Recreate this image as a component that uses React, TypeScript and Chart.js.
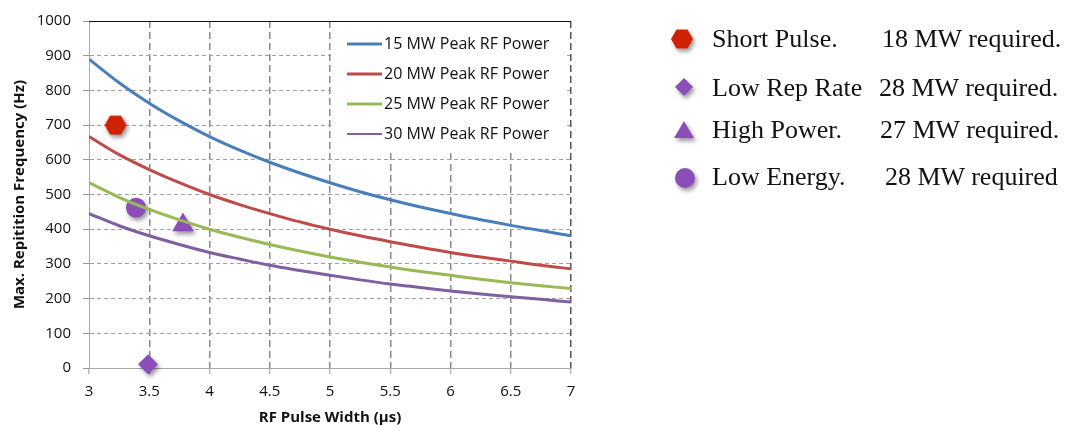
import React, { useEffect, useRef } from 'react';
import { Chart, registerables } from 'chart.js';

Chart.register(...registerables);

// ---- data ----
const pulseWidths = [3, 3.25, 3.5, 3.75, 4, 4.25, 4.5, 4.75, 5, 5.25, 5.5, 5.75, 6, 6.25, 6.5, 6.75, 7];
const rep15MW = [890, 822, 763, 712, 667, 628, 593, 562, 534, 508, 485, 464, 445, 427, 411, 396, 381];
const rep20MW = [667, 615, 572, 534, 500, 471, 445, 421, 400, 381, 364, 348, 333, 320, 308, 296, 286];
const rep25MW = [534, 492, 457, 427, 400, 377, 356, 337, 320, 305, 291, 278, 267, 256, 246, 237, 229];
const rep30MW = [445, 410, 381, 356, 333, 314, 296, 281, 267, 254, 242, 232, 222, 213, 205, 198, 190];
const seriesLabels = ['15 MW Peak RF Power', '20 MW Peak RF Power', '25 MW Peak RF Power', '30 MW Peak RF Power'];
const seriesColors = ['#4A7EBB', '#BE4B48', '#98B954', '#7D60A0'];

const markerLabels = ['Short Pulse.', 'Low Rep Rate', 'High Power.', 'Low Energy.'];
const markerNotes = ['18 MW required.', '28 MW required.', '27 MW required.', '28 MW required'];
const markerX = [3.22, 3.49, 3.78, 3.39];
const markerY = [700, 11, 412, 462];
const markerColors = ['#CF2000', '#8B4DB8', '#8B4DB8', '#8B4DB8'];

const xTitle = 'RF Pulse Width (µs)';
const yTitle = 'Max. Repitition Frequency (Hz)';

function makeHexagon(color: string, r: number) {
  const c = document.createElement('canvas');
  const s = Math.ceil(r * 2 + 2);
  c.width = s;
  c.height = s;
  const g = c.getContext('2d')!;
  g.fillStyle = color;
  g.beginPath();
  for (let i = 0; i < 6; i++) {
    const a = (Math.PI / 3) * i;
    const px = s / 2 + r * Math.cos(a);
    const py = s / 2 + r * Math.sin(a);
    if (i === 0) g.moveTo(px, py);
    else g.lineTo(px, py);
  }
  g.closePath();
  g.fill();
  return c;
}

const insideLegend = {
  id: 'insideLegend',
  beforeDatasetsDraw(chart: any) {
    const { ctx, chartArea } = chart;
    ctx.save();
    ctx.fillStyle = '#ffffff';
    ctx.fillRect(331, chartArea.top + 1, 236, 129);
    ctx.font = '16px "Open Sans"';
    ctx.textBaseline = 'middle';
    ctx.textAlign = 'left';
    seriesLabels.forEach((lab, i) => {
      const y = chartArea.top + 23 + i * 30;
      ctx.strokeStyle = seriesColors[i];
      ctx.lineWidth = i === 3 ? 2 : 3;
      ctx.beginPath();
      ctx.moveTo(347, y);
      ctx.lineTo(382, y);
      ctx.stroke();
      ctx.fillStyle = '#111';
      ctx.fillText(lab, 384, y);
    });
    // top frame line
    ctx.strokeStyle = '#111';
    ctx.lineWidth = 1.2;
    ctx.beginPath();
    ctx.moveTo(chartArea.left, chartArea.top + 0.5);
    ctx.lineTo(chartArea.right, chartArea.top + 0.5);
    ctx.stroke();
    ctx.restore();
  },
};

const markerShadow = {
  id: 'markerShadow',
  beforeDatasetDraw(chart: any, args: any) {
    const ds = chart.data.datasets[args.index];
    if (ds.isMarker) {
      const ctx = chart.ctx;
      ctx.save();
      ctx.shadowColor = 'rgba(0,0,0,0.4)';
      ctx.shadowOffsetX = 2;
      ctx.shadowOffsetY = 3;
      ctx.shadowBlur = 4;
    }
  },
  afterDatasetDraw(chart: any, args: any) {
    const ds = chart.data.datasets[args.index];
    if (ds.isMarker) chart.ctx.restore();
  },
};

export default function App() {
  const ref = useRef<HTMLCanvasElement>(null);

  useEffect(() => {
    if (!ref.current) return;
    const series = [rep15MW, rep20MW, rep25MW, rep30MW];
    const lineSets = series.map((vals, i) => ({
      type: 'line',
      label: seriesLabels[i],
      data: pulseWidths.map((x, j) => ({ x, y: vals[j] })),
      borderColor: seriesColors[i],
      backgroundColor: seriesColors[i],
      borderWidth: 3,
      pointRadius: 0,
      cubicInterpolationMode: 'monotone',
      fill: false,
    }));
    const styles: any[] = [makeHexagon(markerColors[0], 11), 'rectRot', 'triangle', 'circle'];
    const radii = [11, 10, 12.5, 10];
    const markerSets = markerLabels.map((lab, i) => ({
      type: 'scatter',
      label: lab,
      isMarker: true,
      data: [{ x: markerX[i], y: markerY[i] }],
      pointStyle: styles[i],
      pointRadius: radii[i],
      backgroundColor: markerColors[i],
      borderColor: markerColors[i],
      borderWidth: 0,
      clip: false,
    }));

    const chart = new Chart(ref.current, {
      type: 'line',
      data: { datasets: [...lineSets, ...markerSets] as any },
      plugins: [insideLegend, markerShadow],
      options: {
        animation: false,
        responsive: false,
        devicePixelRatio: 1,
        layout: { padding: { top: 15, right: 29, left: 0, bottom: 0 } },
        plugins: { legend: { display: false }, tooltip: { enabled: false } },
        scales: {
          x: {
            type: 'linear',
            min: 3,
            max: 7,
            ticks: {
              stepSize: 0.5,
              padding: 9,
              color: '#111',
              font: { family: 'Open Sans', size: 15 },
              callback: (v: any) => String(v),
            },
            grid: {
              color: (c: any) => (c.tick && c.tick.value === 3 ? 'rgba(0,0,0,0)' : c.tick && c.tick.value === 7 ? '#555' : '#8a8a8a'),
              lineWidth: 1.5,
              tickLength: 6,
              tickColor: '#9a9a9a',
              tickWidth: 1,
              tickBorderDash: [],
            },
            border: { display: true, color: '#a8a8a8', width: 1, dash: [7, 4] },
            title: {
              display: true,
              text: xTitle,
              color: '#111',
              font: { family: 'Open Sans', size: 15, weight: 'bold' },
              padding: { top: 0, bottom: 5 },
            },
            afterFit: (s: any) => {
              s.height = 64;
            },
          },
          y: {
            type: 'linear',
            min: 0,
            max: 1000,
            ticks: {
              stepSize: 100,
              padding: 12,
              color: '#111',
              font: { family: 'Open Sans', size: 15 },
              callback: (v: any) => String(v),
            },
            grid: {
              color: (c: any) => (c.tick && (c.tick.value === 0 || c.tick.value === 1000) ? 'rgba(0,0,0,0)' : '#a0a0a0'),
              lineWidth: 1,
              tickLength: 6,
              tickColor: '#9a9a9a',
              tickWidth: 1,
              tickBorderDash: [],
            },
            border: { display: true, color: '#a8a8a8', width: 1, dash: [4, 3] },
            title: {
              display: true,
              text: yTitle,
              color: '#111',
              font: { family: 'Open Sans', size: 15, weight: 'bold' },
              padding: { top: 11, bottom: 0 },
            },
            afterFit: (s: any) => {
              s.width = 89;
            },
          },
        },
      } as any,
    });
    return () => chart.destroy();
  }, []);

  const hex = (cx: number, cy: number, r: number) =>
    Array.from({ length: 6 }, (_, i) => {
      const a = (Math.PI / 3) * i;
      return `${cx + r * Math.cos(a)},${cy + r * Math.sin(a)}`;
    }).join(' ');

  const rowBase = [47, 96, 138, 185];
  const rowMark = [39, 87, 130, 178];
  const noteX = [882, 879, 880, 885];

  return (
    <div style={{ position: 'absolute', left: 0, top: 0, width: 1078, height: 432, background: '#fff' }}>
      <canvas ref={ref} width={600} height={432} style={{ position: 'absolute', left: 0, top: 0 }} />
      <svg width={1078} height={432} style={{ position: 'absolute', left: 0, top: 0, pointerEvents: 'none' }}>
        <defs>
          <filter id="sh" x="-50%" y="-50%" width="200%" height="200%">
            <feDropShadow dx="2" dy="3" stdDeviation="2" floodColor="#000" floodOpacity="0.4" />
          </filter>
        </defs>
        <polygon points={hex(682, rowMark[0], 11)} fill={markerColors[0]} filter="url(#sh)" />
        <polygon points={`684,${rowMark[1] - 9} 693,${rowMark[1]} 684,${rowMark[1] + 9} 675,${rowMark[1]}`} fill={markerColors[1]} filter="url(#sh)" />
        <polygon points={`684,${rowMark[2] - 9} 694,${rowMark[2] + 8} 674,${rowMark[2] + 8}`} fill={markerColors[2]} filter="url(#sh)" />
        <circle cx={685} cy={rowMark[3]} r={10} fill={markerColors[3]} filter="url(#sh)" />
        {markerLabels.map((lab, i) => (
          <text key={'l' + i} x={712} y={rowBase[i]} fontFamily="'Liberation Serif', serif" fontSize={26} fill="#111">
            {lab}
          </text>
        ))}
        {markerNotes.map((n, i) => (
          <text key={'n' + i} x={noteX[i]} y={rowBase[i]} fontFamily="'Liberation Serif', serif" fontSize={26} fill="#111">
            {n}
          </text>
        ))}
      </svg>
    </div>
  );
}
